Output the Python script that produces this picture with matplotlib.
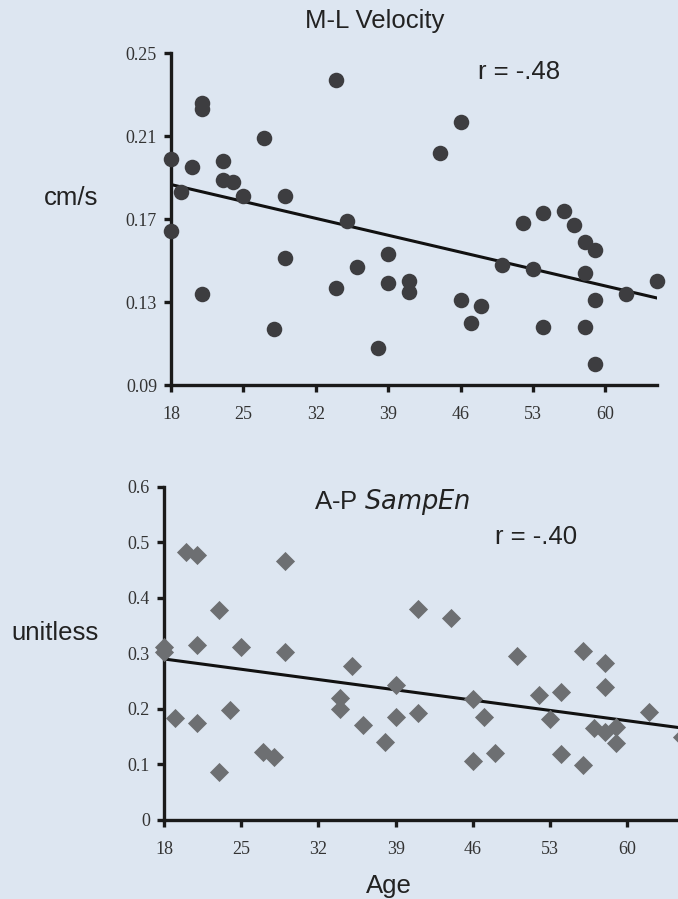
import numpy as np
import matplotlib
matplotlib.use("Agg")
import matplotlib.pyplot as plt

# M-L velocity (cm/s) vs age
ml_age = [18, 18, 19, 20, 21, 21, 21, 23, 23, 24, 25, 27, 28, 29, 29, 34, 34, 35, 36, 38, 39, 39,
          41, 41, 44, 46, 46, 47, 48, 50, 52, 53, 54, 54, 56, 57, 58, 58, 58, 59, 59, 59, 62, 65]
ml_vel = [0.199, 0.164, 0.183, 0.195, 0.226, 0.223, 0.134, 0.198, 0.189, 0.188, 0.181, 0.209,
          0.117, 0.181, 0.151, 0.237, 0.137, 0.169, 0.147, 0.108, 0.153, 0.139, 0.140, 0.135,
          0.202, 0.217, 0.131, 0.120, 0.128, 0.148, 0.168, 0.146, 0.173, 0.118, 0.174, 0.167,
          0.159, 0.144, 0.118, 0.155, 0.131, 0.100, 0.134, 0.140]

# A-P SampEn vs age
ap_age = [18, 18, 19, 20, 21, 21, 21, 23, 23, 24, 25, 27, 28, 29, 29, 34, 34, 35, 36, 38, 39, 39,
          41, 41, 44, 46, 46, 47, 48, 50, 52, 53, 54, 54, 56, 56, 57, 58, 58, 58, 59, 59, 62, 65]
ap_sampen = [0.312, 0.303, 0.183, 0.482, 0.478, 0.316, 0.174, 0.378, 0.087, 0.198, 0.312, 0.123,
             0.113, 0.467, 0.303, 0.219, 0.200, 0.278, 0.171, 0.140, 0.243, 0.186, 0.380, 0.192,
             0.364, 0.218, 0.106, 0.186, 0.121, 0.296, 0.225, 0.182, 0.231, 0.118, 0.305, 0.099,
             0.166, 0.283, 0.240, 0.159, 0.168, 0.138, 0.195, 0.150]

age_ticks = [18, 25, 32, 39, 46, 53, 60]
ml_ticks = [0.09, 0.13, 0.17, 0.21, 0.25]
ml_ticklabels = ["0.09", "0.13", "0.17", "0.21", "0.25"]
ap_ticks = [0, 0.1, 0.2, 0.3, 0.4, 0.5, 0.6]
ap_ticklabels = ["0", "0.1", "0.2", "0.3", "0.4", "0.5", "0.6"]

bg = "#dde6f1"
ink = "#222222"
sans = ["Liberation Sans", "DejaVu Sans"]
serif = ["Liberation Serif", "DejaVu Serif"]

fig = plt.figure(figsize=(6.78, 8.99), dpi=100, facecolor=bg)


def style_axes(ax, yticks, ylabels):
    ax.set_facecolor("none")
    for s in ["top", "right"]:
        ax.spines[s].set_visible(False)
    for s in ["left", "bottom"]:
        ax.spines[s].set_linewidth(2.4)
        ax.spines[s].set_color("#1a1a1a")
    ax.set_xticks(age_ticks)
    ax.set_xticklabels([str(a) for a in age_ticks], family=serif, fontsize=13, color="#333333")
    ax.set_yticks(yticks)
    ax.set_yticklabels(ylabels, family=serif, fontsize=13, color="#333333")
    ax.tick_params(axis="both", direction="out", length=5, width=2.4, color="#1a1a1a")
    ax.tick_params(axis="x", pad=10)
    ax.tick_params(axis="y", pad=5)


# top panel
ax1 = fig.add_axes([0.2522, 0.5717, 0.7168, 0.3693])
ax1.scatter(ml_age, ml_vel, s=125, marker="o", color="#3d3d40", linewidths=0, zorder=3, clip_on=False)
k, b = np.polyfit(ml_age, ml_vel, 1)
xs = np.array([18, 65])
ax1.plot(xs, k * xs + b, color="#111111", lw=2.2, zorder=2)
ax1.set_xlim(18, 65)
ax1.set_ylim(0.09, 0.25)
style_axes(ax1, ml_ticks, ml_ticklabels)

# bottom panel
ax2 = fig.add_axes([0.2419, 0.0879, 0.7646, 0.3704])
ax2.scatter(ap_age, ap_sampen, s=95, marker="D", color="#6d6f72", linewidths=0, zorder=3, clip_on=False)
k2, b2 = np.polyfit(ap_age, ap_sampen, 1)
ax2.plot(xs, k2 * xs + b2, color="#111111", lw=2.2, zorder=2)
ax2.set_xlim(18, 65)
ax2.set_ylim(0, 0.6)
style_axes(ax2, ap_ticks, ap_ticklabels)

fig.text(0.553, 0.9766, "M-L Velocity", ha="center", va="center", fontsize=18.5, family=sans, color=ink)
fig.text(0.7655, 0.920, "r = -.48", ha="center", va="center", fontsize=18.5, family=sans, color=ink)
fig.text(0.1047, 0.7798, "cm/s", ha="center", va="center", fontsize=18.5, family=sans, color=ink)
fig.text(0.578, 0.4416, "A-P $\\mathit{SampEn}$", ha="center", va="center", fontsize=18.5,
         family=sans, color=ink)
fig.text(0.7906, 0.4027, "r = -.40", ha="center", va="center", fontsize=18.5, family=sans, color=ink)
fig.text(0.0811, 0.2959, "unitless", ha="center", va="center", fontsize=18.5, family=sans, color=ink)
fig.text(0.5737, 0.0145, "Age", ha="center", va="center", fontsize=18.5, family=sans, color=ink)

fig.savefig("out.png", dpi=100, facecolor=bg)
